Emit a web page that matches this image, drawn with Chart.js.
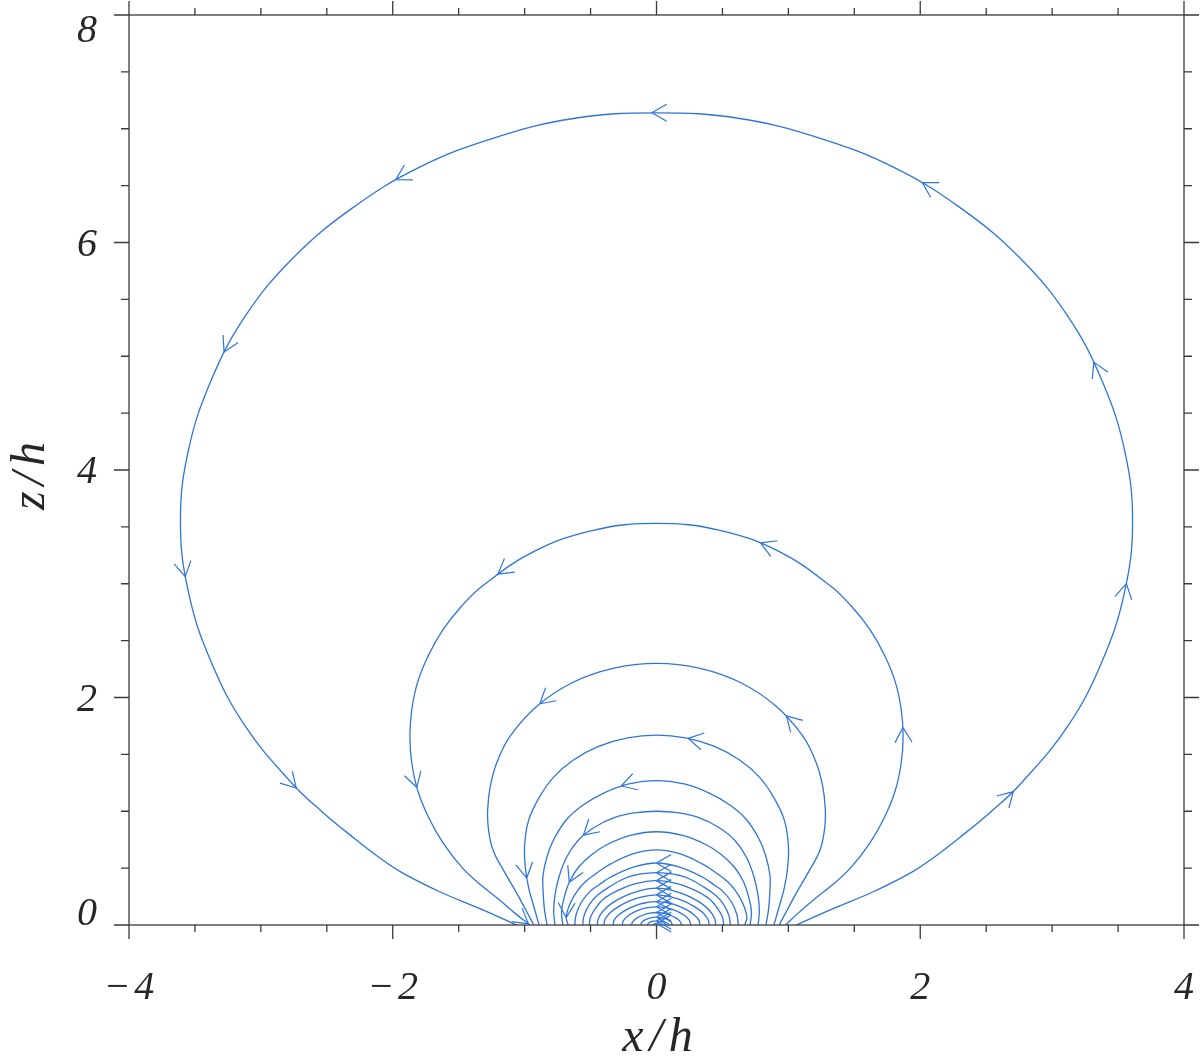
<!doctype html>
<html lang="en">
<head>
  <meta charset="utf-8" />
  <title>Field lines x/h - z/h</title>
  <script src="https://cdn.jsdelivr.net/npm/chart.js"></script>
  <style>
    html, body { margin: 0; padding: 0; background: #fff; }
  </style>
</head>
<body>
  <canvas id="fieldChart" width="1200" height="1064"></canvas>

<script>
  // Field line loops, each from its right footpoint round to its left one (x/h, z/h)
  const loop01X = [1.06, 1.33, 1.64, 1.93, 2.11, 2.30, 2.53, 2.76, 3.12, 3.38, 3.55, 3.61, 3.55, 3.38, 3.12, 2.76, 2.31, 1.80, 1.23, 0.63, 0, -0.63, -1.23, -1.80, -2.31, -2.76, -3.12, -3.38, -3.55, -3.61, -3.55, -3.38, -3.12, -2.76, -2.53, -2.30, -2.11, -1.93, -1.64, -1.33, -1.06];
  const loop01Z = [0, 0.14, 0.29, 0.46, 0.60, 0.77, 0.99, 1.24, 1.75, 2.32, 2.93, 3.55, 4.17, 4.78, 5.35, 5.86, 6.30, 6.66, 6.92, 7.09, 7.14, 7.09, 6.92, 6.66, 6.30, 5.86, 5.35, 4.78, 4.17, 3.55, 2.93, 2.32, 1.75, 1.24, 0.99, 0.77, 0.60, 0.46, 0.29, 0.14, 0];
  const loop02X = [0.98, 1.07, 1.19, 1.32, 1.47, 1.62, 1.73, 1.81, 1.855, 1.87, 1.855, 1.81, 1.73, 1.62, 1.48, 1.32, 0.935, 0.48, 0, -0.48, -0.935, -1.32, -1.48, -1.62, -1.73, -1.81, -1.855, -1.87, -1.855, -1.81, -1.73, -1.62, -1.47, -1.32, -1.19, -1.07, -0.96];
  const loop02Z = [0, 0.10, 0.22, 0.34, 0.50, 0.725, 0.95, 1.18, 1.42, 1.66, 1.90, 2.14, 2.37, 2.595, 2.80, 2.98, 3.28, 3.47, 3.53, 3.47, 3.28, 2.98, 2.80, 2.595, 2.37, 2.14, 1.90, 1.66, 1.42, 1.18, 0.95, 0.725, 0.50, 0.34, 0.22, 0.10, 0];
  const loop03X = [0.93, 0.99, 1.06, 1.15, 1.24, 1.275, 1.28, 1.26, 1.21, 1.11, 0.905, 0.64, 0.33, 0, -0.33, -0.64, -0.905, -1.11, -1.21, -1.26, -1.28, -1.275, -1.24, -1.15, -1.06, -0.99, -0.93];
  const loop03Z = [0, 0.13, 0.28, 0.46, 0.66, 0.85, 1.02, 1.22, 1.43, 1.66, 1.925, 2.13, 2.256, 2.30, 2.256, 2.13, 1.925, 1.66, 1.43, 1.22, 1.02, 0.85, 0.66, 0.46, 0.28, 0.13, 0];
  const loop04X = [0.89, 0.93, 0.97, 0.995, 1.00, 0.97, 0.89, 0.78, 0.63, 0.44, 0.22, 0, -0.22, -0.44, -0.63, -0.78, -0.89, -0.97, -1.00, -0.995, -0.97, -0.93, -0.89];
  const loop04Z = [0, 0.16, 0.33, 0.51, 0.70, 0.92, 1.12, 1.30, 1.45, 1.57, 1.645, 1.67, 1.645, 1.57, 1.45, 1.30, 1.12, 0.92, 0.70, 0.51, 0.33, 0.16, 0];
  const loop05X = [0.83, 0.85, 0.86, 0.86, 0.83, 0.78, 0.68, 0.55, 0.40, 0.21, 0, -0.21, -0.40, -0.55, -0.68, -0.78, -0.83, -0.86, -0.86, -0.85, -0.83];
  const loop05Z = [0, 0.14, 0.30, 0.44, 0.60, 0.75, 0.93, 1.06, 1.16, 1.24, 1.27, 1.24, 1.16, 1.06, 0.93, 0.75, 0.60, 0.44, 0.30, 0.14, 0];
  const loop06X = [0.77, 0.78, 0.77, 0.74, 0.68, 0.59, 0.47, 0.33, 0.17, 0, -0.17, -0.33, -0.47, -0.59, -0.68, -0.74, -0.77, -0.78, -0.77];
  const loop06Z = [0, 0.12, 0.26, 0.42, 0.60, 0.75, 0.86, 0.94, 0.985, 1.00, 0.985, 0.94, 0.86, 0.75, 0.60, 0.42, 0.26, 0.12, 0];
  const loop07X = [0.71, 0.72, 0.70, 0.66, 0.59, 0.49, 0.37, 0.19, 0, -0.19, -0.37, -0.49, -0.59, -0.66, -0.70, -0.72, -0.71];
  const loop07Z = [0, 0.12, 0.24, 0.38, 0.51, 0.62, 0.71, 0.79, 0.82, 0.79, 0.71, 0.62, 0.51, 0.38, 0.24, 0.12, 0];
  const loop08X = [0.67, 0.685, 0.655, 0.60, 0.54, 0.45, 0.35, 0.18, 0, -0.18, -0.35, -0.45, -0.54, -0.60, -0.655, -0.685, -0.67];
  const loop08Z = [0, 0.07, 0.19, 0.30, 0.38, 0.46, 0.535, 0.625, 0.66, 0.625, 0.535, 0.46, 0.38, 0.30, 0.19, 0.07, 0];
  const loop09X = [0.62, 0.61, 0.57, 0.50, 0.44, 0.35, 0.17, 0, -0.17, -0.35, -0.44, -0.50, -0.57, -0.61, -0.62];
  const loop09Z = [0, 0.09, 0.20, 0.30, 0.35, 0.42, 0.51, 0.545, 0.51, 0.42, 0.35, 0.30, 0.20, 0.09, 0];
  const loop10X = [0.56, 0.55, 0.51, 0.45, 0.35, 0.26, 0.18, 0, -0.18, -0.26, -0.35, -0.45, -0.51, -0.55, -0.56];
  const loop10Z = [0, 0.08, 0.18, 0.26, 0.34, 0.40, 0.435, 0.46, 0.435, 0.40, 0.34, 0.26, 0.18, 0.08, 0];
  const loop11X = [0.51, 0.50, 0.46, 0.40, 0.30, 0.17, 0, -0.17, -0.30, -0.40, -0.46, -0.50, -0.51];
  const loop11Z = [0, 0.07, 0.15, 0.23, 0.30, 0.36, 0.39, 0.36, 0.30, 0.23, 0.15, 0.07, 0];
  const loop12X = [0.45, 0.44, 0.40, 0.34, 0.25, 0.13, 0, -0.13, -0.25, -0.34, -0.40, -0.44, -0.45];
  const loop12Z = [0, 0.06, 0.13, 0.19, 0.25, 0.30, 0.325, 0.30, 0.25, 0.19, 0.13, 0.06, 0];
  const loop13X = [0.40, 0.39, 0.35, 0.29, 0.20, 0.10, 0, -0.10, -0.20, -0.29, -0.35, -0.39, -0.40];
  const loop13Z = [0, 0.05, 0.11, 0.16, 0.215, 0.25, 0.265, 0.25, 0.215, 0.16, 0.11, 0.05, 0];
  const loop14X = [0.33, 0.32, 0.28, 0.22, 0.14, 0.07, 0, -0.07, -0.14, -0.22, -0.28, -0.32, -0.33];
  const loop14Z = [0, 0.045, 0.095, 0.14, 0.18, 0.198, 0.205, 0.198, 0.18, 0.14, 0.095, 0.045, 0];
  const loop15X = [0.26, 0.25, 0.21, 0.15, 0.08, 0, -0.08, -0.15, -0.21, -0.25, -0.26];
  const loop15Z = [0, 0.04, 0.085, 0.125, 0.15, 0.16, 0.15, 0.125, 0.085, 0.04, 0];
  const loop16X = [0.19, 0.18, 0.15, 0.10, 0.05, 0, -0.05, -0.10, -0.15, -0.18, -0.19];
  const loop16Z = [0, 0.03, 0.06, 0.088, 0.104, 0.11, 0.104, 0.088, 0.06, 0.03, 0];
  const loop17X = [0.12, 0.11, 0.08, 0.04, 0, -0.04, -0.08, -0.11, -0.12];
  const loop17Z = [0, 0.025, 0.05, 0.064, 0.07, 0.064, 0.05, 0.025, 0];
  const loop18X = [0.07, 0.06, 0.035, 0, -0.035, -0.06, -0.07];
  const loop18Z = [0, 0.017, 0.031, 0.037, 0.031, 0.017, 0];
  const loop19X = [0.025, 0.018, 0, -0.018, -0.025];
  const loop19Z = [0, 0.009, 0.013, 0.009, 0];

  // direction arrows: which loop (1-based) and where the tip sits
  const arrowLoop = [1, 1, 1, 1, 1, 1, 1, 1, 1, 2, 2, 2, 2, 2, 3, 3, 4, 4, 5, 6, 7, 8, 9, 10, 11, 12, 13, 14, 15, 16, 17, 18, 19];
  const arrowX = [-0.03, -1.96, -3.29, -3.58, -2.75, 2.74, 3.58, 3.34, 2.02, 1.85, 0.79, -1.21, -1.80, -0.955, 0.99, -0.88, 0.24, -1.00, -0.27, -0.55, -0.67, -0.705, 0, 0, 0, 0, 0, 0, 0, 0, 0, 0, 0];
  const arrowZ = [7.14, 6.54, 5.04, 3.05, 1.19, 1.14, 2.99, 4.95, 6.55, 1.73, 3.34, 3.08, 1.21, 0.03, 1.85, 1.93, 1.65, 0.41, 1.24, 0.78, 0.38, 0.06, 0.545, 0.46, 0.39, 0.325, 0.265, 0.205, 0.16, 0.11, 0.07, 0.037, 0.013];

  // axes
  const xMajorTicks = [-4, -2, 0, 2, 4];
  const xTickLabels = ['\u2212\u200A4', '\u2212\u200A2', '0', '2', '4'];
  const xMinorTicks = [-3.5, -3, -2.5, -1.5, -1, -0.5, 0.5, 1, 1.5, 2.5, 3, 3.5];
  const zMajorTicks = [0, 2, 4, 6, 8];
  const zTickLabels = ['0', '2', '4', '6', '8'];
  const zMinorTicks = [0.5, 1, 1.5, 2.5, 3, 3.5, 4.5, 5, 5.5, 6.5, 7, 7.5];

  const lineBlue = '#2f74dc';
  const axisColor = '#3a3a3a';
  const labelFont = 'italic 40px "Liberation Serif", "DejaVu Serif", serif';
  const titleFont = 'italic 48px "Liberation Serif", "DejaVu Serif", serif';

  const loops = [
    [loop01X, loop01Z], [loop02X, loop02Z], [loop03X, loop03Z], [loop04X, loop04Z], [loop05X, loop05Z],
    [loop06X, loop06Z], [loop07X, loop07Z], [loop08X, loop08Z], [loop09X, loop09Z], [loop10X, loop10Z],
    [loop11X, loop11Z], [loop12X, loop12Z], [loop13X, loop13Z], [loop14X, loop14Z], [loop15X, loop15Z],
    [loop16X, loop16Z], [loop17X, loop17Z], [loop18X, loop18Z], [loop19X, loop19Z]
  ];

  // find where the arrow sits on the drawn bezier and which way it is going
  function arrowOnCurve(pts, tx, ty) {
    let best = 0, bestD = Infinity, bestT = 0;
    for (let i = 0; i < pts.length - 1; i++) {
      const p = pts[i], q = pts[i + 1];
      const dx = q.x - p.x, dy = q.y - p.y;
      const len2 = dx * dx + dy * dy || 1;
      let t = ((tx - p.x) * dx + (ty - p.y) * dy) / len2;
      t = Math.max(0, Math.min(1, t));
      const ex = p.x + t * dx - tx, ey = p.y + t * dy - ty;
      const d = ex * ex + ey * ey;
      if (d < bestD) { bestD = d; best = i; bestT = t; }
    }
    const p0 = pts[best], p3 = pts[best + 1];
    const c1 = { x: p0.cp2x ?? p0.x, y: p0.cp2y ?? p0.y };
    const c2 = { x: p3.cp1x ?? p3.x, y: p3.cp1y ?? p3.y };
    const t = bestT, u = 1 - t;
    const x = u * u * u * p0.x + 3 * u * u * t * c1.x + 3 * u * t * t * c2.x + t * t * t * p3.x;
    const y = u * u * u * p0.y + 3 * u * u * t * c1.y + 3 * u * t * t * c2.y + t * t * t * p3.y;
    let dx = 3 * u * u * (c1.x - p0.x) + 6 * u * t * (c2.x - c1.x) + 3 * t * t * (p3.x - c2.x);
    let dy = 3 * u * u * (c1.y - p0.y) + 6 * u * t * (c2.y - c1.y) + 3 * t * t * (p3.y - c2.y);
    if (Math.hypot(dx, dy) < 1e-6) { dx = p3.x - p0.x; dy = p3.y - p0.y; }
    const len = Math.hypot(dx, dy) || 1;
    return { x, y, dx: dx / len, dy: dy / len };
  }

  const framePlugin = {
    id: 'framePlugin',
    afterDatasetsDraw(chart) {
      const { ctx, chartArea: a } = chart;
      const xs = chart.scales.x, ys = chart.scales.y;
      ctx.save();

      // box with outward ticks on all four sides
      ctx.strokeStyle = axisColor;
      ctx.lineWidth = 1.3;
      ctx.strokeRect(a.left, a.top, a.right - a.left, a.bottom - a.top);
      ctx.beginPath();
      const xTick = (v, len) => {
        const px = xs.getPixelForValue(v);
        ctx.moveTo(px, a.bottom); ctx.lineTo(px, a.bottom + len);
        ctx.moveTo(px, a.top); ctx.lineTo(px, a.top - len);
      };
      const zTick = (v, len) => {
        const py = ys.getPixelForValue(v);
        ctx.moveTo(a.left, py); ctx.lineTo(a.left - len, py);
        ctx.moveTo(a.right, py); ctx.lineTo(a.right + len, py);
      };
      xMajorTicks.forEach(v => xTick(v, 14));
      xMinorTicks.forEach(v => xTick(v, 7));
      zMajorTicks.forEach(v => zTick(v, 15));
      zMinorTicks.forEach(v => zTick(v, 8));
      ctx.stroke();

      // tick labels
      ctx.fillStyle = '#262626';
      ctx.font = labelFont;
      ctx.textBaseline = 'alphabetic';
      ctx.textAlign = 'center';
      xMajorTicks.forEach((v, i) => {
        ctx.fillText(xTickLabels[i], xs.getPixelForValue(v), a.bottom + 74);
      });
      ctx.textAlign = 'right';
      zMajorTicks.forEach((v, i) => {
        const py = Math.min(Math.max(ys.getPixelForValue(v), a.top + 14), a.bottom - 13);
        ctx.fillText(zTickLabels[i], a.left - 32, py + 13);
      });

      // axis titles
      ctx.font = titleFont;
      ctx.textAlign = 'center';
      ctx.letterSpacing = '6px';
      ctx.fillText('x/h', (a.left + a.right) / 2 + 4, a.bottom + 126);
      ctx.save();
      ctx.translate(44, (a.top + a.bottom) / 2 + 3);
      ctx.rotate(-Math.PI / 2);
      ctx.fillText('z/h', 0, 0);
      ctx.restore();
      ctx.letterSpacing = '0px';

      // chevron arrows along the field lines
      ctx.strokeStyle = lineBlue;
      ctx.lineWidth = 1.2;
      const arm = 17, spread = 30 * Math.PI / 180;
      arrowLoop.forEach((li, k) => {
        const pts = chart.getDatasetMeta(li - 1).data;
        const tip = arrowOnCurve(pts, xs.getPixelForValue(arrowX[k]), ys.getPixelForValue(arrowZ[k]));
        const bx = -tip.dx, by = -tip.dy;
        ctx.beginPath();
        [spread, -spread].forEach(s => {
          const ax = bx * Math.cos(s) - by * Math.sin(s);
          const ay = bx * Math.sin(s) + by * Math.cos(s);
          ctx.moveTo(tip.x, tip.y);
          ctx.lineTo(tip.x + ax * arm, tip.y + ay * arm);
        });
        ctx.stroke();
      });

      ctx.restore();
    }
  };

  const ctx = document.getElementById('fieldChart').getContext('2d');
  const fieldChart = new Chart(ctx, {
    type: 'line',
    data: {
      datasets: loops.map(([xv, zv], i) => ({
        label: 'loop ' + (i + 1),
        data: xv.map((x, j) => ({ x: x, y: zv[j] })),
        pointRadius: 0,
        pointHoverRadius: 0,
        borderColor: lineBlue,
        borderWidth: 1.3,
        tension: 0.4,
        fill: false
      }))
    },
    options: {
      responsive: false,
      animation: false,
      devicePixelRatio: 1,
      layout: { padding: { left: 129, right: 16, top: 15, bottom: 139 } },
      plugins: { legend: { display: false }, tooltip: { enabled: false } },
      scales: {
        x: { type: 'linear', min: -4, max: 4, display: false },
        y: { type: 'linear', min: 0, max: 8, display: false }
      }
    },
    plugins: [framePlugin]
  });
</script>
</body>
</html>
